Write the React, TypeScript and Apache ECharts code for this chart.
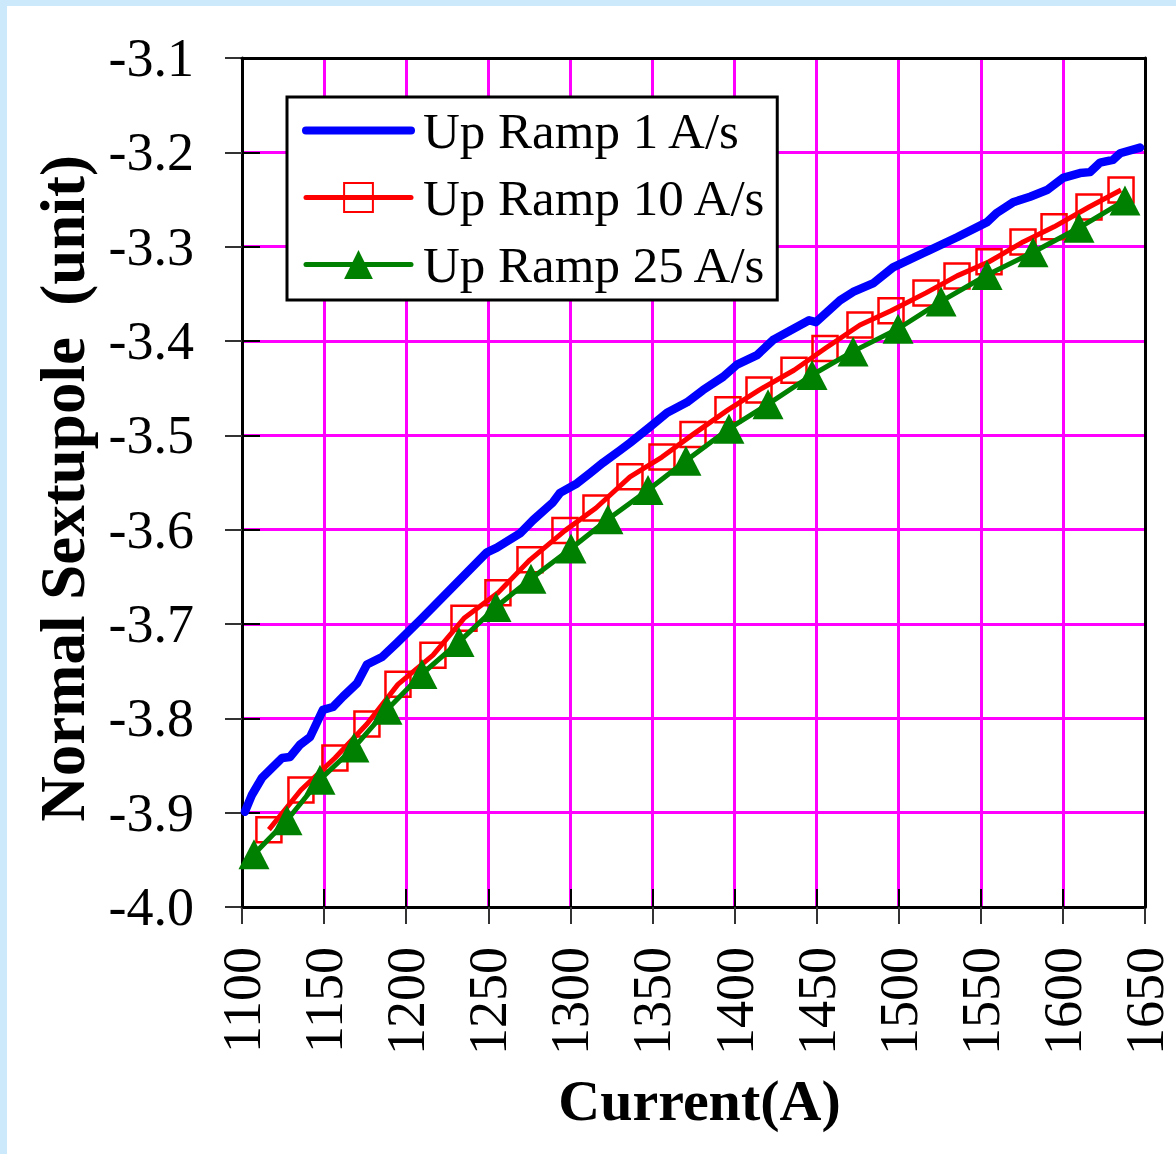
import React, { useEffect, useRef } from "react";
import * as echarts from "echarts";

const seriesNames = ["Up Ramp 1 A/s", "Up Ramp 10 A/s", "Up Ramp 25 A/s"];

const ramp1Current = [1101.8, 1106.1, 1112.2, 1124.4, 1129.2, 1135.3, 1141.4, 1149.3, 1155.4, 1161.5, 1170.0, 1176.1, 1185.3, 1194.4, 1208.4, 1249.2, 1255.3, 1269.3, 1277.2, 1289.4, 1293.7, 1304.0, 1312.0, 1319.9, 1330.2, 1336.3, 1348.5, 1358.9, 1371.0, 1380.8, 1393.0, 1401.5, 1413.7, 1423.4, 1445.4, 1449.6, 1464.2, 1472.2, 1484.3, 1496.5, 1514.8, 1535.5, 1553.8, 1559.9, 1569.6, 1580.0, 1590.3, 1600.1, 1610.4, 1616.5, 1622.6, 1630.5, 1634.8, 1647.0];
const ramp1Value = [-3.899, -3.881, -3.863, -3.842, -3.841, -3.828, -3.820, -3.791, -3.788, -3.777, -3.763, -3.743, -3.735, -3.720, -3.696, -3.624, -3.619, -3.604, -3.590, -3.571, -3.561, -3.551, -3.540, -3.529, -3.516, -3.508, -3.491, -3.476, -3.465, -3.452, -3.438, -3.425, -3.415, -3.399, -3.378, -3.380, -3.357, -3.348, -3.339, -3.322, -3.307, -3.290, -3.274, -3.264, -3.253, -3.247, -3.240, -3.227, -3.222, -3.221, -3.211, -3.208, -3.201, -3.195];

const ramp10Current = [1116.4, 1135.9, 1156.6, 1176.1, 1195.0, 1216.3, 1235.2, 1255.9, 1275.4, 1296.7, 1315.6, 1336.3, 1355.8, 1374.7, 1396.0, 1414.9, 1436.2, 1455.1, 1476.4, 1495.3, 1516.6, 1535.5, 1555.0, 1575.7, 1594.6, 1615.9, 1635.4];
const ramp10Value = [-3.918, -3.876, -3.842, -3.806, -3.764, -3.733, -3.694, -3.667, -3.632, -3.601, -3.577, -3.544, -3.523, -3.499, -3.473, -3.452, -3.431, -3.408, -3.383, -3.368, -3.349, -3.331, -3.316, -3.295, -3.279, -3.258, -3.240];

const ramp25Current = [1107.3, 1127.4, 1147.5, 1168.2, 1188.3, 1209.6, 1232.2, 1254.7, 1276.0, 1300.4, 1322.9, 1347.3, 1370.4, 1396.6, 1420.4, 1447.2, 1472.2, 1499.6, 1525.8, 1553.8, 1581.8, 1609.8, 1637.8];
const ramp25Value = [-3.944, -3.908, -3.865, -3.831, -3.791, -3.753, -3.719, -3.682, -3.652, -3.620, -3.589, -3.558, -3.527, -3.493, -3.467, -3.436, -3.411, -3.387, -3.358, -3.330, -3.306, -3.280, -3.251];

const xMin = 1100;
const xMax = 1650;
const xStep = 50;
const yMin = -4.0;
const yMax = -3.1;
const yStep = 0.1;

const xTitle = "Current(A)";
const yTitle = "Normal Sextupole  (unit)";

const pair = (xs: number[], ys: number[]) => xs.map((x, i) => [x, ys[i]]);

const SERIF = "'Liberation Serif', 'Times New Roman', serif";

export default function App() {
  const ref = useRef<HTMLDivElement>(null);

  useEffect(() => {
    if (!ref.current) return;
    const chart = echarts.init(ref.current, null, { renderer: "svg" });

    const hidden = {
      axisLine: { show: false },
      axisLabel: { show: false },
      splitLine: { show: false },
      axisTick: { show: false },
    };

    chart.setOption({
      animation: false,
      backgroundColor: "#ffffff",
      grid: { left: 235, right: 31, top: 52, bottom: 247, containLabel: false },
      legend: {
        orient: "vertical",
        left: 280,
        top: 91,
        backgroundColor: "#ffffff",
        borderColor: "#000000",
        borderWidth: 3,
        borderRadius: 0,
        padding: [8, 10, 10, 15],
        itemWidth: 105,
        itemHeight: 36,
        itemGap: 16,
        textStyle: { fontFamily: SERIF, fontSize: 51, color: "#000", padding: [0, 0, 0, 7] },
        data: [
          { name: seriesNames[0], itemStyle: { opacity: 0 }, lineStyle: { width: 8, cap: "round" } },
          { name: seriesNames[1], lineStyle: { width: 5, cap: "round" } },
          { name: seriesNames[2], lineStyle: { width: 5, cap: "round" } },
        ],
      },
      xAxis: [
        {
          type: "value",
          min: xMin,
          max: xMax,
          interval: xStep,
          position: "bottom",
          name: xTitle,
          nameLocation: "middle",
          nameGap: 164,
          nameTextStyle: { fontFamily: SERIF, fontSize: 58, fontWeight: "bold", color: "#000", padding: [0, 0, 0, 12] },
          axisLine: { show: true, onZero: false, lineStyle: { color: "#000", width: 3 } },
          axisTick: { show: true, inside: false, length: 17, lineStyle: { color: "#333", width: 2 } },
          axisLabel: {
            show: true,
            rotate: 90,
            margin: 40,
            fontFamily: SERIF,
            fontSize: 54,
            color: "#000",
            formatter: (v: number) => String(v),
          },
          splitLine: { show: true, showMinLine: false, showMaxLine: false, lineStyle: { color: "#ff00ff", width: 3 } },
          z: 0,
        },
        {
          type: "value",
          min: xMin,
          max: xMax,
          interval: xStep,
          position: "bottom",
          ...hidden,
          axisTick: { show: true, inside: true, length: 18, lineStyle: { color: "#000", width: 2 } },
          z: 1,
        },
        {
          type: "value",
          min: xMin,
          max: xMax,
          interval: xStep,
          position: "top",
          ...hidden,
          axisLine: { show: true, onZero: false, lineStyle: { color: "#000", width: 3 } },
          z: 1,
        },
      ],
      yAxis: [
        {
          type: "value",
          min: yMin,
          max: yMax,
          interval: yStep,
          position: "left",
          name: yTitle,
          nameLocation: "middle",
          nameGap: 148,
          nameTextStyle: { fontFamily: SERIF, fontSize: 63, fontWeight: "bold", color: "#000", padding: [0, 12, 0, 0] },
          axisLine: { show: true, onZero: false, lineStyle: { color: "#000", width: 3 } },
          axisTick: { show: true, inside: false, length: 17, lineStyle: { color: "#333", width: 2 } },
          axisLabel: {
            show: true,
            margin: 48,
            fontFamily: SERIF,
            fontSize: 54,
            color: "#000",
            formatter: (v: number) => v.toFixed(1),
          },
          splitLine: { show: true, showMinLine: false, showMaxLine: false, lineStyle: { color: "#ff00ff", width: 3 } },
          z: 0,
        },
        {
          type: "value",
          min: yMin,
          max: yMax,
          interval: yStep,
          position: "left",
          ...hidden,
          axisTick: { show: true, inside: true, length: 18, lineStyle: { color: "#000", width: 2 } },
          z: 1,
        },
        {
          type: "value",
          min: yMin,
          max: yMax,
          interval: yStep,
          position: "right",
          ...hidden,
          axisLine: { show: true, onZero: false, lineStyle: { color: "#000", width: 3 } },
          z: 1,
        },
      ],
      series: [
        {
          name: seriesNames[0],
          type: "line",
          xAxisIndex: 0,
          yAxisIndex: 0,
          data: pair(ramp1Current, ramp1Value),
          symbol: "none",
          showSymbol: false,
          color: "#0000ff",
          lineStyle: { color: "#0000ff", width: 8.5, cap: "round", join: "round" },
          z: 3,
        },
        {
          name: seriesNames[1],
          type: "line",
          xAxisIndex: 0,
          yAxisIndex: 0,
          data: pair(ramp10Current, ramp10Value),
          symbol: "rect",
          symbolSize: 25,
          color: "#ff0000",
          lineStyle: { color: "#ff0000", width: 5, join: "round" },
          itemStyle: { color: "rgba(255,255,255,0)", borderColor: "#ff0000", borderWidth: 2.5 },
          z: 4,
        },
        {
          name: seriesNames[2],
          type: "line",
          xAxisIndex: 0,
          yAxisIndex: 0,
          data: pair(ramp25Current, ramp25Value),
          symbol: "triangle",
          symbolSize: [31, 30],
          color: "#008000",
          lineStyle: { color: "#008000", width: 5, join: "round" },
          itemStyle: { color: "#008000" },
          z: 5,
        },
      ],
    });

    return () => chart.dispose();
  }, []);

  return (
    <div
      style={{
        position: "absolute",
        left: 0,
        top: 0,
        width: 1176,
        height: 1154,
        background: "#cce9fb",
        overflow: "hidden",
      }}
    >
      <div
        ref={ref}
        style={{ position: "absolute", left: 7, top: 6, width: 1169, height: 1148, background: "#ffffff" }}
      />
    </div>
  );
}
